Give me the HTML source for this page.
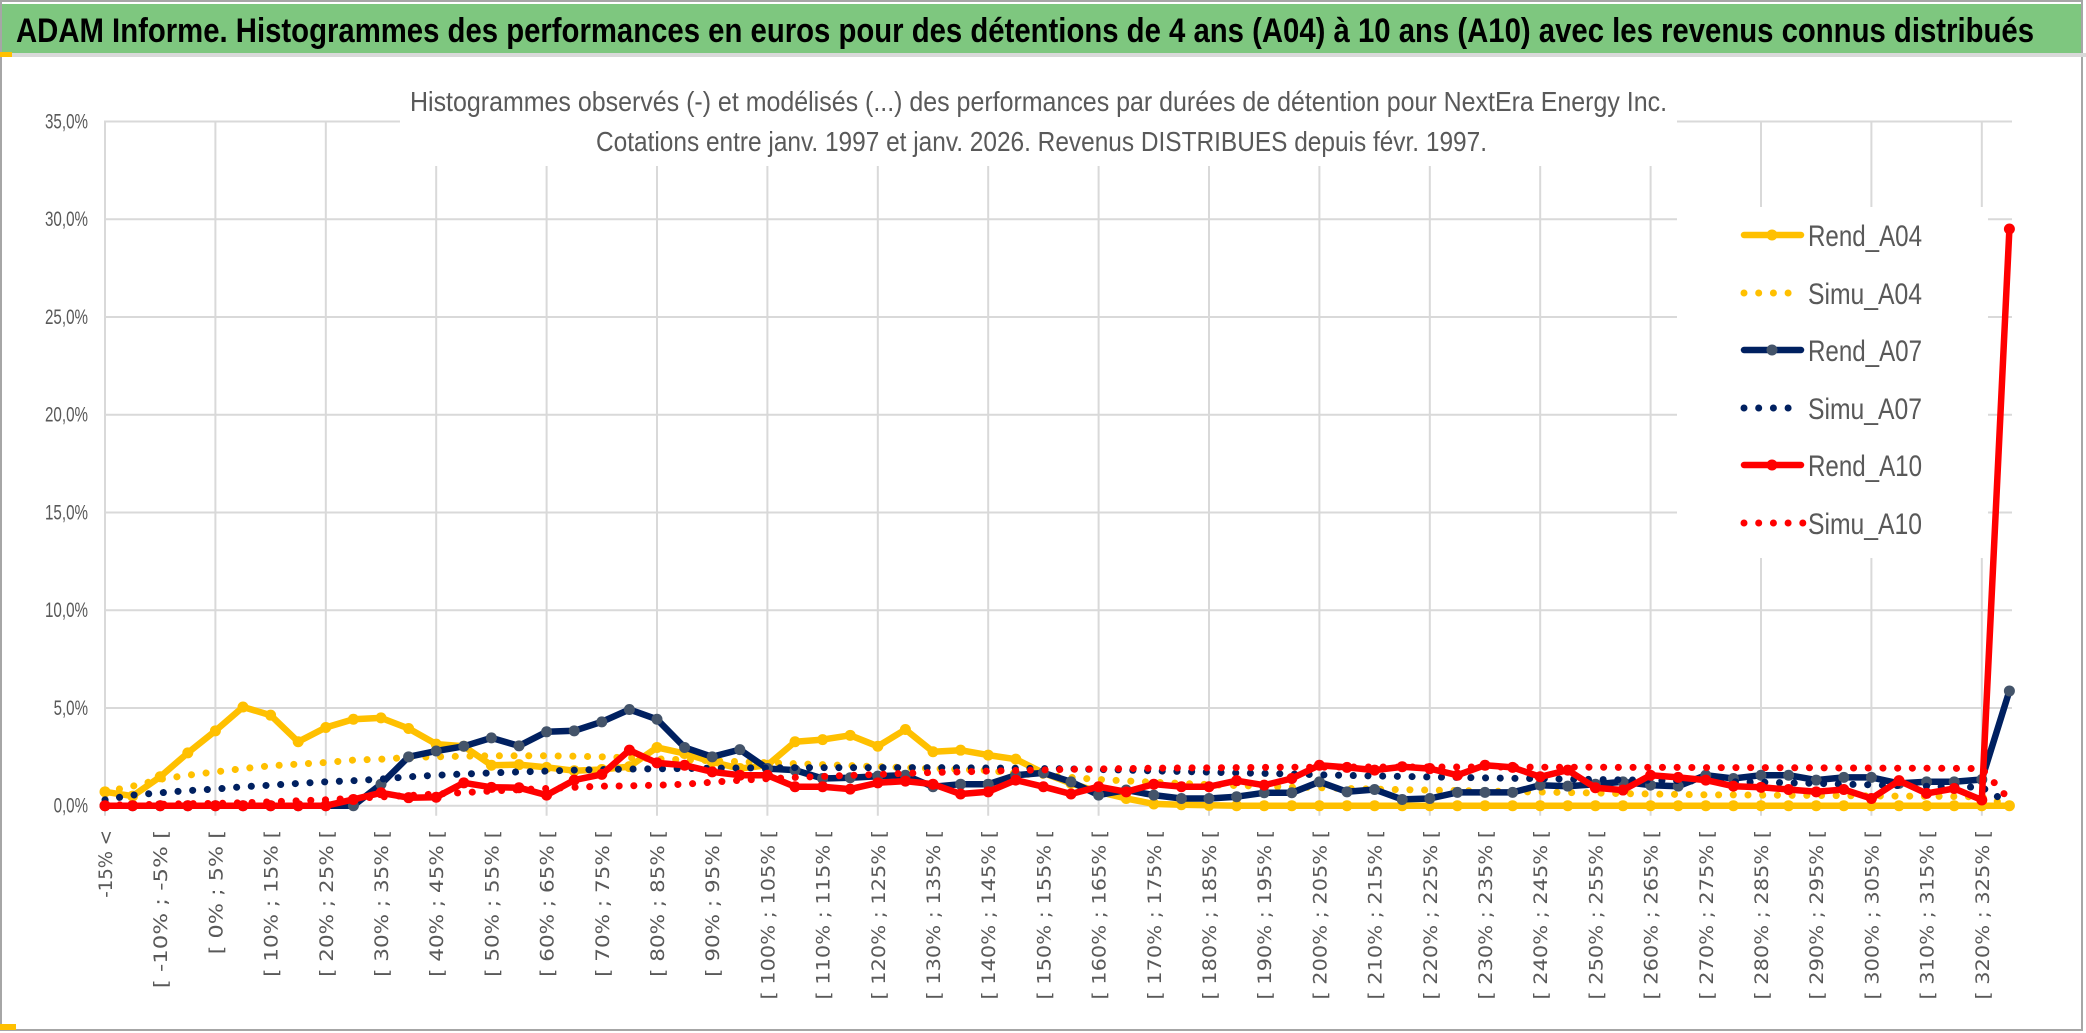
<!DOCTYPE html>
<html><head><meta charset="utf-8"><style>
html,body{margin:0;padding:0;background:#fff;}
svg{display:block;font-family:"Liberation Sans Narrow","Liberation Sans",sans-serif;}
</style></head><body>
<svg id="chart" width="2086" height="1033" viewBox="0 0 2086 1033" xmlns="http://www.w3.org/2000/svg">
<rect x="0" y="0" width="2086" height="1033" fill="#fff"/>
<rect x="1" y="1" width="2081" height="1029" fill="none" stroke="#a6a6a6" stroke-width="2"/>
<rect x="2" y="4" width="2079" height="49" fill="#7ec77f"/>
<rect x="0" y="53" width="2086" height="4" fill="#d9d9d9"/>
<rect x="0" y="52" width="12" height="5" fill="#ffc000"/>
<rect x="0" y="1024" width="16" height="6" fill="#ffc000"/>
<text x="16" y="42" font-size="34" font-weight="bold" fill="#000" textLength="2018" lengthAdjust="spacingAndGlyphs">ADAM Informe. Histogrammes des performances en euros pour des détentions de 4 ans (A04) à 10 ans (A10) avec les revenus connus distribués</text>
<g id="grid"></g>
<rect x="400" y="60" width="1277" height="106" fill="#fff"/>
<text x="410" y="111" font-size="28" fill="#595959" textLength="1257" lengthAdjust="spacingAndGlyphs">Histogrammes observés (-) et modélisés (...) des performances par durées de détention pour NextEra Energy Inc.</text>
<text x="596" y="151" font-size="28" fill="#595959" textLength="891" lengthAdjust="spacingAndGlyphs">Cotations entre janv. 1997 et janv. 2026. Revenus DISTRIBUES depuis févr. 1997.</text>
<g id="yaxis"></g>
<g id="xaxis"></g>
<g id="series"></g>
<g id="legend"></g>
</svg>
<script>
const categories = ["-15% <","[ -15% ; -10% [","[ -10% ; -5% [","[ -5% ; 0% [","[ 0% ; 5% [","[ 5% ; 10% [","[ 10% ; 15% [","[ 15% ; 20% [","[ 20% ; 25% [","[ 25% ; 30% [",
"[ 30% ; 35% [","[ 35% ; 40% [","[ 40% ; 45% [","[ 45% ; 50% [","[ 50% ; 55% [","[ 55% ; 60% [","[ 60% ; 65% [","[ 65% ; 70% [","[ 70% ; 75% [","[ 75% ; 80% [",
"[ 80% ; 85% [","[ 85% ; 90% [","[ 90% ; 95% [","[ 95% ; 100% [","[ 100% ; 105% [","[ 105% ; 110% [","[ 110% ; 115% [","[ 115% ; 120% [","[ 120% ; 125% [","[ 125% ; 130% [",
"[ 130% ; 135% [","[ 135% ; 140% [","[ 140% ; 145% [","[ 145% ; 150% [","[ 150% ; 155% [","[ 155% ; 160% [","[ 160% ; 165% [","[ 165% ; 170% [","[ 170% ; 175% [","[ 175% ; 180% [",
"[ 180% ; 185% [","[ 185% ; 190% [","[ 190% ; 195% [","[ 195% ; 200% [","[ 200% ; 205% [","[ 205% ; 210% [","[ 210% ; 215% [","[ 215% ; 220% [","[ 220% ; 225% [","[ 225% ; 230% [",
"[ 230% ; 235% [","[ 235% ; 240% [","[ 240% ; 245% [","[ 245% ; 250% [","[ 250% ; 255% [","[ 255% ; 260% [","[ 260% ; 265% [","[ 265% ; 270% [","[ 270% ; 275% [","[ 275% ; 280% [",
"[ 280% ; 285% [","[ 285% ; 290% [","[ 290% ; 295% [","[ 295% ; 300% [","[ 300% ; 305% [","[ 305% ; 310% [","[ 310% ; 315% [","[ 315% ; 320% [","[ 320% ; 325% [","[ 325% ; 330% ["];
const yTicks = [0,5,10,15,20,25,30,35];
const yTickLabels = ["0,0%","5,0%","10,0%","15,0%","20,0%","25,0%","30,0%","35,0%"];
const rendA04 = [0.71,0.49,1.48,2.70,3.83,5.05,4.63,3.27,4.0,4.42,4.49,3.95,3.15,3.04,2.07,2.1,1.96,1.79,1.85,2.0,
2.98,2.67,2.24,1.9,2.07,3.27,3.38,3.6,3.04,3.9,2.76,2.84,2.59,2.38,1.68,1.14,0.71,0.37,0.09,0.05,
0.02,0,0,0,0,0,0,0,0,0,0,0,0,0,0,0,0,0,0,0,0,0,0,0,0,0,0,0,0,0];
const simuA04 = [0.7,1.0,1.35,1.56,1.73,1.9,2.04,2.13,2.21,2.33,2.38,2.47,2.5,2.53,2.55,2.55,2.55,2.53,2.5,2.45,
2.4,2.35,2.3,2.25,2.2,2.15,2.1,2.05,2.0,1.95,1.9,1.85,1.8,1.65,1.55,1.45,1.34,1.27,1.2,1.14,
1.08,1.03,0.99,0.95,0.92,0.88,0.85,0.82,0.8,0.77,0.75,0.72,0.7,0.67,0.65,0.62,0.6,0.58,0.56,0.55,
0.54,0.53,0.52,0.51,0.5,0.49,0.48,0.47,0.45,0.05];
const rendA07 = [0,0,0,0,0,0,0,0,0,0,1.1,2.5,2.8,3.04,3.47,3.06,3.78,3.83,4.29,4.92,
4.42,2.98,2.5,2.87,1.9,1.82,1.39,1.43,1.51,1.56,0.97,1.1,1.1,1.56,1.68,1.22,0.54,0.8,0.54,0.37,
0.37,0.46,0.66,0.66,1.22,0.71,0.83,0.32,0.37,0.68,0.68,0.68,1.05,1.0,1.1,1.22,1.05,1.0,1.56,1.39,
1.56,1.56,1.31,1.45,1.45,1.14,1.22,1.22,1.34,5.87];
const simuA07 = [0.3,0.54,0.66,0.77,0.85,0.97,1.05,1.14,1.22,1.28,1.36,1.48,1.56,1.62,1.68,1.73,1.77,1.82,1.85,1.87,
1.89,1.9,1.92,1.93,1.94,1.95,1.95,1.95,1.95,1.95,1.95,1.94,1.93,1.92,1.9,1.88,1.85,1.82,1.78,1.75,
1.72,1.68,1.65,1.62,1.58,1.55,1.52,1.5,1.47,1.45,1.42,1.4,1.38,1.36,1.34,1.32,1.3,1.28,1.25,1.22,
1.2,1.17,1.14,1.1,1.07,1.03,1.0,0.97,0.94,0.1];
const rendA10 = [0,0,0,0,0,0,0,0,0,0.32,0.66,0.41,0.43,1.17,0.94,0.92,0.54,1.31,1.6,2.84,
2.19,2.07,1.73,1.56,1.56,0.97,0.97,0.85,1.17,1.26,1.1,0.6,0.71,1.31,0.97,0.6,0.97,0.71,1.1,0.97,
0.97,1.28,1.05,1.39,2.07,1.96,1.82,1.99,1.9,1.56,2.07,1.96,1.48,1.82,0.92,0.8,1.56,1.45,1.31,1.0,
0.94,0.83,0.71,0.83,0.37,1.28,0.63,0.88,0.29,29.5];
const simuA10 = [0.03,0.05,0.07,0.1,0.12,0.15,0.2,0.25,0.3,0.38,0.45,0.52,0.6,0.67,0.75,0.82,0.88,0.94,1.0,1.02,
1.05,1.1,1.2,1.3,1.38,1.45,1.5,1.55,1.6,1.65,1.7,1.73,1.77,1.8,1.83,1.86,1.88,1.9,1.92,1.93,
1.94,1.95,1.96,1.97,1.97,1.98,1.98,1.98,1.98,1.98,1.98,1.98,1.97,1.97,1.97,1.96,1.96,1.96,1.95,1.95,
1.95,1.94,1.94,1.93,1.93,1.92,1.92,1.91,1.9,0.3];
const seriesNames = ["Rend_A04","Simu_A04","Rend_A07","Simu_A07","Rend_A10","Simu_A10"];

const NS = "http://www.w3.org/2000/svg";
const X0 = 105, DX = 27.6, Y0 = 805.7, PPU = 19.55;
function xPos(i){ return X0 + i*DX; }
function yPos(v){ return Y0 - v*PPU; }
function mk(tag, attrs, parent){ const e=document.createElementNS(NS,tag); for(const k in attrs) e.setAttribute(k,attrs[k]); parent.appendChild(e); return e; }

const grid = document.getElementById('grid');
const plotRight = 2012;
yTicks.forEach((t,k)=>{
  const l = mk('line',{x1:X0-1,x2:plotRight,y1:yPos(t),y2:yPos(t),stroke:'#d9d9d9','stroke-width':2},grid);
  
  
});
for(let i=0;i<categories.length;i+=4){
  const l = mk('line',{x1:xPos(i),x2:xPos(i),y1:yPos(35),y2:Y0+10,stroke:'#d9d9d9','stroke-width':2},grid);
  
  
}
const ya = document.getElementById('yaxis');
yTicks.forEach((t,k)=>{
  const tx = mk('text',{x:88,y:yPos(t)+7,'text-anchor':'end','font-size':21,fill:'#595959',textLength:yTickLabels[k].length*8.6,lengthAdjust:'spacingAndGlyphs'},ya);
  tx.textContent = yTickLabels[k];
  
  
});
const xa = document.getElementById('xaxis');
categories.forEach((c,i)=>{
  if(i%2) return;
  const x = xPos(i)+7, y = 830;
  const tx = mk('text',{x:x,y:y,transform:`rotate(-90 ${x} ${y})`,'text-anchor':'end','font-size':19,fill:'#595959','font-family':'"DejaVu Sans",sans-serif',textLength:c.length*11.3,lengthAdjust:'spacingAndGlyphs'},xa);
  tx.textContent = c;
  
  
});

const sg = document.getElementById('series');
function pts(arr){ return arr.map((v,i)=>xPos(i).toFixed(1)+','+yPos(v).toFixed(1)).join(' '); }
function solid(arr,color,mcolor,name){
  const g = mk('g',{},sg);
  
  
  const p = mk('polyline',{points:pts(arr),fill:'none',stroke:color,'stroke-width':6.5,'stroke-linejoin':'round'},g);
  
  
  arr.forEach((v,i)=>{
    const c = mk('circle',{cx:xPos(i),cy:yPos(v),r:5.5,fill:mcolor},g);
    
    
  });
}
function dotted(arr,color,name){
  const p = mk('polyline',{points:pts(arr),fill:'none',stroke:color,'stroke-width':7,'stroke-linecap':'round','stroke-dasharray':'0.1 14.6'},sg);
  
  
}
solid(rendA04,'#ffc000','#ffc000','rend-a04');
dotted(simuA04,'#ffc000','simu-a04');
solid(rendA07,'#002060','#44546a','rend-a07');
dotted(simuA07,'#002060','simu-a07');
dotted(simuA10,'#ff0000','simu-a10');
solid(rendA10,'#ff0000','#ff0000','rend-a10');

const lg = document.getElementById('legend');
const lbg = mk('rect',{x:1677,y:207,width:311,height:351,fill:'#fff'},lg);


const lColors = ['#ffc000','#ffc000','#002060','#002060','#ff0000','#ff0000'];
const lMark = ['#ffc000',null,'#44546a',null,'#ff0000',null];
const lY = [235,293,350,408,465,523];
seriesNames.forEach((n,k)=>{
  const g = mk('g',{},lg);
  
  
  const y = lY[k];
  if(lMark[k]){
    mk('line',{x1:1744,x2:1801,y1:y,y2:y,stroke:lColors[k],'stroke-width':6.5,'stroke-linecap':'round'},g);
    mk('circle',{cx:1772,cy:y,r:5.5,fill:lMark[k]},g);
  } else {
    const nd = k===5?5:4;
    for(let d=0;d<nd;d++) mk('circle',{cx:1744+d*14.7,cy:y,r:3.5,fill:lColors[k]},g);
  }
  const t = mk('text',{x:1808,y:y+11,'font-size':30,fill:'#595959',textLength:114,lengthAdjust:'spacingAndGlyphs'},g);
  t.textContent = n;
});
</script>
</body></html>
